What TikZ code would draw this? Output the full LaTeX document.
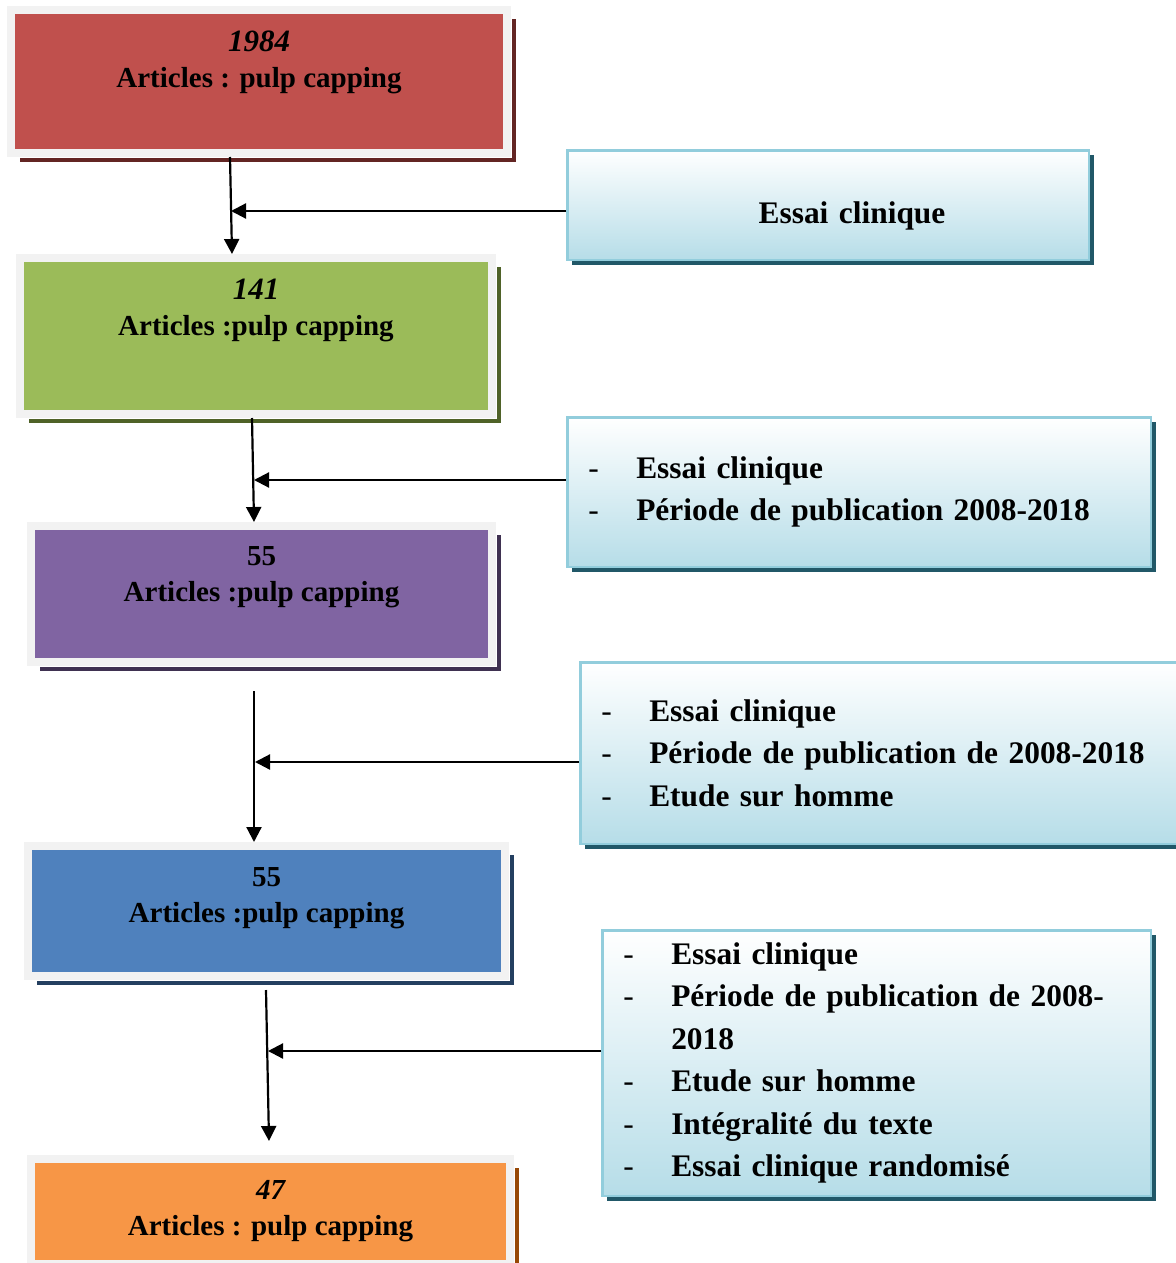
\documentclass[tikz,border=0pt]{standalone}
\usepackage{fontspec}
\setmainfont{Liberation Serif}
\usepackage{tikz}
\usetikzlibrary{arrows.meta}
\usetikzlibrary{shadows}
\definecolor{stagered}{RGB}{192, 80, 77}
\definecolor{stageredshade}{RGB}{99, 37, 35}
\definecolor{stagegreen}{RGB}{155, 187, 89}
\definecolor{stagegreenshade}{RGB}{79, 98, 40}
\definecolor{stagepurple}{RGB}{128, 100, 162}
\definecolor{stagepurpleshade}{RGB}{63, 49, 81}
\definecolor{stageblue}{RGB}{79, 129, 189}
\definecolor{stageblueshade}{RGB}{36, 63, 96}
\definecolor{stageorange}{RGB}{247, 150, 70}
\definecolor{stageorangeshade}{RGB}{151, 72, 6}
\definecolor{framegray}{RGB}{242, 242, 242}
\definecolor{filterline}{RGB}{146, 205, 220}
\definecolor{filterfill}{RGB}{182, 221, 232}
\definecolor{filtershade}{RGB}{33, 88, 104}

\newcommand{\stagetext}[3]{\parbox[c][#1][t]{#2}{\centering\vspace*{21pt}#3}}
\newcommand{\stagecount}[1]{{\fontsize{31}{36}\selectfont\itshape #1}}
\newcommand{\dashitem}{\makebox[48pt][l]{\mdseries -}}

\tikzset{
  stagebox/.style 2 args={rectangle, inner sep=0pt, fill=#1, draw=framegray, line width=8pt,
    drop shadow={shadow xshift=9pt, shadow yshift=-9pt, fill=#2, opacity=1},
    preaction={draw=white, line width=10pt},
    font=\fontsize{29}{36}\selectfont\bfseries},
  filterbox/.style={rectangle, inner xsep=21pt, inner ysep=0pt, draw=filterline, line width=2.5pt,
    top color=white, bottom color=filterfill,
    drop shadow={shadow xshift=5pt, shadow yshift=-5pt, fill=filtershade, opacity=1},
    align=left, font=\fontsize{31.4}{42.5}\selectfont\bfseries},
  flow/.style={line width=2.2pt, -{Triangle[length=15pt,width=15pt]}}
}

\begin{document}
\begin{tikzpicture}[x=1pt, y=1pt]
    \useasboundingbox (0,0) rectangle (1175,-1263);
    % Article counts
    \node[stagebox={stagered}{stageredshade}]       (n1984) at (259,-81.5)   {\stagetext{143pt}{496pt}{\stagecount{1984}\\Articles : pulp capping}};
    \node[stagebox={stagegreen}{stagegreenshade}]   (n141)  at (256,-336)    {\stagetext{156pt}{472pt}{\stagecount{141}\\Articles :pulp capping}};
    \node[stagebox={stagepurple}{stagepurpleshade}] (n55a)  at (261.5,-594)  {\stagetext{136pt}{461pt}{55\\Articles :pulp capping}};
    \node[stagebox={stageblue}{stageblueshade}]     (n55b)  at (266.5,-911)  {\stagetext{130pt}{477pt}{55\\Articles :pulp capping}};
    \node[stagebox={stageorange}{stageorangeshade}] (n47)   at (270.5,-1211.5) {\stagetext{105pt}{479pt}{{\itshape 47}\\Articles : pulp capping}};
    % Selection criteria
    \node[filterbox, align=center, text width=479.5pt, minimum height=109.5pt, text height=36pt, text depth=0pt]
        (f1) at (828,-205) {\hspace*{48pt}Essai clinique};
    \node[filterbox, text width=541.5pt, minimum height=149.5pt] (f2) at (859,-492)
        {\dashitem Essai clinique\\
         \dashitem Période de publication 2008-2018};
    \node[filterbox, text width=556.5pt, minimum height=181.5pt] (f3) at (879.5,-753)
        {\dashitem Essai clinique\\
         \dashitem Période de publication de 2008-2018\\
         \dashitem Etude sur homme};
    \node[filterbox, text width=506.5pt, minimum height=265.5pt] (f4) at (876.5,-1063)
        {\dashitem Essai clinique\\
         \dashitem Période de publication de 2008-\\
         \hspace*{48pt}2018\\
         \dashitem Etude sur homme\\
         \dashitem Intégralité du texte\\
         \dashitem Essai clinique randomisé};
    % Junctions on the main flow
    \coordinate (j1) at (231,-211);
    \coordinate (j2) at (254,-480);
    \coordinate (j3) at (255,-762);
    \coordinate (j4) at (268,-1051);
    % Main flow
    \draw[flow] ([xshift=-29pt]n1984.south) -- ([xshift=-24pt]n141.north);
    \draw[flow] ([xshift=-4pt]n141.south) -- ([xshift=-7.5pt]n55a.north);
    \draw[flow] ([xshift=-7.5pt, yshift=-25pt]n55a.south) -- ([xshift=-12.5pt]n55b.north);
    \draw[flow] ([xshift=-0.5pt, yshift=-10pt]n55b.south) -- ([xshift=-1.5pt, yshift=14pt]n47.north);
    % Criteria feeding in
    \draw[flow] (f1.west |- j1) -- (j1);
    \draw[flow] (f2.west |- j2) -- (j2);
    \draw[flow] (f3.west |- j3) -- (j3);
    \draw[flow] (f4.west |- j4) -- (j4);
\end{tikzpicture}
\end{document}
